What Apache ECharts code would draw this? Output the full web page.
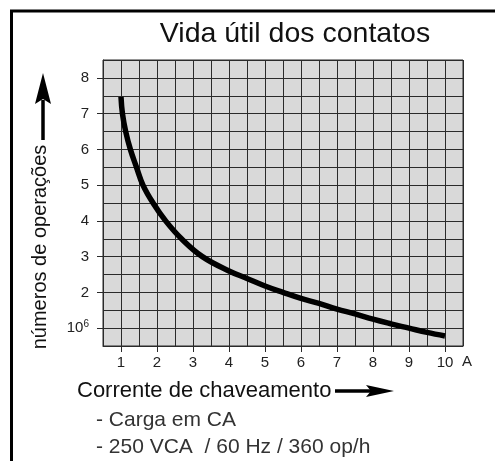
<!DOCTYPE html>
<html><head><meta charset="utf-8">
<script src="https://cdn.jsdelivr.net/npm/echarts@6/dist/echarts.min.js"></script>
<style>html,body{margin:0;padding:0;background:#fff}#c{width:495px;height:461px}</style>
</head><body><div id="c"></div>
<script>
const currentA = [1.0, 1.04, 1.13, 1.26, 1.43, 1.61, 1.89, 2.24, 2.68, 3.26, 4.0, 4.5, 5.0, 5.5, 6.0, 6.5, 7.0, 7.5, 8.0, 8.5, 9.0, 9.5, 10.0];
const operations = [7.47, 7.0, 6.5, 6.0, 5.5, 5.0, 4.5, 4.0, 3.5, 3.0, 2.6, 2.39, 2.18, 2.0, 1.83, 1.69, 1.53, 1.4, 1.25, 1.12, 1.0, 0.88, 0.78];
const xTickValues = [1, 2, 3, 4, 5, 6, 7, 8, 9, 10];
const yTickValues = [1, 2, 3, 4, 5, 6, 7, 8];
const titleText = 'Vida útil dos contatos';
const yName = 'números de operações';
const xName = 'Corrente de chaveamento';
const notes = ['- Carga em CA', '- 250 VCA  / 60 Hz / 360 op/h'];
const unitText = 'A';

const FONT = "'Liberation Sans', Arial, sans-serif";
const chart = echarts.init(document.getElementById('c'), null, {renderer: 'canvas'});
const gridColor = '#2a2a2a';

chart.setOption({
  animation: false,
  backgroundColor: '#fff',
  grid: {left: 103, top: 60, width: 360, height: 286, show: true, backgroundColor: '#d9d9d9', borderColor: gridColor, borderWidth: 1},
  xAxis: [
    {type: 'value', min: 0.5, max: 10.5, interval: 0.5, position: 'bottom',
     axisLine: {show: true, lineStyle: {color: gridColor, width: 1}}, axisTick: {show: false}, axisLabel: {show: false},
     splitLine: {show: true, lineStyle: {color: gridColor, width: 1}}},
    {type: 'value', min: 0.5, max: 10.5, position: 'bottom',
     axisLine: {show: false}, splitLine: {show: false},
     axisTick: {show: true, customValues: xTickValues, length: 6, lineStyle: {color: gridColor}},
     axisLabel: {show: true, customValues: xTickValues, margin: 9, fontSize: 15, color: '#222', fontFamily: FONT}}
  ],
  yAxis: [
    {type: 'value', min: 0.5, max: 8.5, interval: 0.5,
     axisLine: {show: true, lineStyle: {color: gridColor, width: 1}}, axisTick: {show: false}, axisLabel: {show: false},
     splitLine: {show: true, lineStyle: {color: gridColor, width: 1}}},
    {type: 'value', min: 0.5, max: 8.5, position: 'left',
     axisLine: {show: false}, splitLine: {show: false},
     axisTick: {show: true, customValues: yTickValues, length: 6, lineStyle: {color: gridColor}},
     axisLabel: {show: true, customValues: yTickValues, margin: 14, fontSize: 15, color: '#222', fontFamily: FONT,
       formatter: v => v === 1 ? '{a|10}{b|6}' : String(v),
       rich: {a: {fontSize: 15, color: '#222', fontFamily: FONT}, b: {fontSize: 10, color: '#222', fontFamily: FONT, padding: [0, 0, 7, 0]}}}}
  ],
  series: [{
    type: 'line', xAxisIndex: 0, yAxisIndex: 0, smooth: 0.4, showSymbol: false, symbol: 'none',
    lineStyle: {color: '#000', width: 5.5, cap: 'butt'},
    data: currentA.map((x, i) => [x, operations[i]])
  }],
  graphic: [
    {type: 'line', shape: {x1: 10, y1: 11, x2: 495, y2: 11}, style: {stroke: '#000', lineWidth: 3}},
    {type: 'line', shape: {x1: 11.5, y1: 10, x2: 11.5, y2: 461}, style: {stroke: '#000', lineWidth: 3}},
    {type: 'text', style: {text: titleText, x: 295, y: 34, align: 'center', verticalAlign: 'middle', font: "28.5px " + FONT, fill: '#111'}},
    {type: 'text', style: {text: yName, x: 0, y: 0, align: 'center', verticalAlign: 'middle', font: "20px " + FONT, fill: '#111'}, x: 40, y: 247, rotation: Math.PI / 2},
    {type: 'line', shape: {x1: 43, y1: 100, x2: 43, y2: 140}, style: {stroke: '#000', lineWidth: 3.5}},
    {type: 'polygon', shape: {points: [[43, 73], [51, 104], [43, 99], [35, 104]]}, style: {fill: '#000'}},
    {type: 'text', style: {text: xName, x: 77, y: 391, align: 'left', verticalAlign: 'middle', font: "22px " + FONT, fill: '#111'}},
    {type: 'line', shape: {x1: 335, y1: 391, x2: 372, y2: 391}, style: {stroke: '#000', lineWidth: 3.5}},
    {type: 'polygon', shape: {points: [[394, 391], [366, 385], [371, 391], [366, 397]]}, style: {fill: '#000'}},
    {type: 'text', style: {text: notes[0], x: 96, y: 420, align: 'left', verticalAlign: 'middle', font: "21px " + FONT, fill: '#333'}},
    {type: 'text', style: {text: notes[1], x: 96, y: 447, align: 'left', verticalAlign: 'middle', font: "21px " + FONT, fill: '#333'}},
    {type: 'text', style: {text: unitText, x: 467, y: 362, align: 'center', verticalAlign: 'middle', font: "15px " + FONT, fill: '#222'}}
  ]
});
</script>
</body></html>
